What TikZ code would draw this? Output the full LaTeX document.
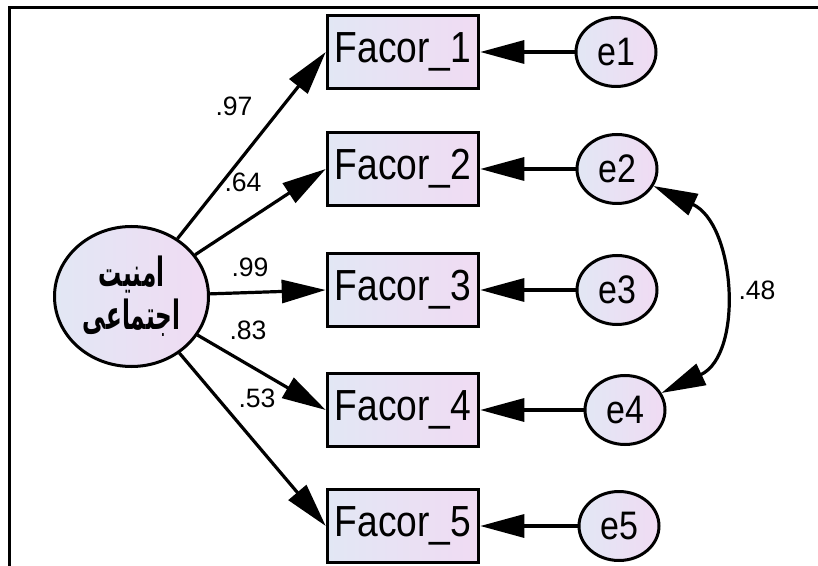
\documentclass[tikz,border=0pt]{standalone}
\usepackage{graphicx}
\usepackage{fontspec}
\setmainfont{Liberation Sans}
\newfontfamily\arabicfont[Script=Arabic]{DejaVu Sans}
\TeXXeTstate=1
\usetikzlibrary{arrows.meta,shapes.geometric}
\definecolor{fillL}{RGB}{226,231,244}
\definecolor{fillR}{RGB}{240,219,243}
\newcommand{\tallbox}[1]{\scalebox{1}[1.17]{#1}}
\newcommand{\rtlline}[1]{\scalebox{0.7}[1.22]{\beginR #1\endR}}

\begin{document}
\begin{tikzpicture}[x=0.5pt,y=-0.5pt,
  latent/.style={ellipse,draw,line width=1.5pt,left color=fillL,right color=fillR,inner sep=0pt},
  observed/.style={rectangle,draw,line width=1.75pt,left color=fillL,right color=fillR,
    minimum width=75.5pt,minimum height=36.5pt,inner sep=0pt,font=\fontsize{18.6}{20}\selectfont},
  err/.style={latent,minimum width=40pt,minimum height=34.5pt,font=\fontsize{17}{20}\selectfont},
  load/.style={line width=1.6pt,-{Triangle[length=22pt,width=11.5pt]}},
  coef/.style={font=\fontsize{13.3}{15}\selectfont}]
  \useasboundingbox (0,0) rectangle (818,566);
  % frame (cut off at right and bottom)
  \draw[line width=1.5pt] (818,8) -- (9,8) -- (9,566);
  % latent factor
  \node[latent,minimum width=77pt,minimum height=70pt] (sec) at (131.5,296.5) {};
  \node[align=center,font=\arabicfont\bfseries\fontsize{16.5}{21.5}\selectfont] (secname) at (131.5,296)
    {\rtlline{امنیت}\\\rtlline{اجتماعی}};
  % indicators and their errors
  \foreach \i/\y/\ex in {1/52/616,2/169/617,3/290/617,4/410/625,5/526/619}{
    \node[observed] (f\i) at (403,\y) {\tallbox{Facor\_\i}};
    \node[err] (e\i) at (\ex,\y) {\tallbox{e\i}};
    \draw[load] (e\i) -- (f\i);
  }
  % loadings
  \foreach \i/\v/\lx/\ly in {1/.97/234/106,2/.64/243/182,3/.99/250/267,4/.83/248/330,5/.53/257/398}{
    \draw[load] (sec) -- (f\i.west);
    \node[coef] (c\i) at (\lx,\ly) {\v};
  }
  % error covariance
  \draw[line width=1.6pt,{Triangle[length=22pt,width=11.5pt]}-{Triangle[length=22pt,width=11.5pt]}]
    (e2) to[out=-25,in=25,looseness=1.12] (e4);
  \node[coef] (r24) at (757,290) {.48};
\end{tikzpicture}
\end{document}
